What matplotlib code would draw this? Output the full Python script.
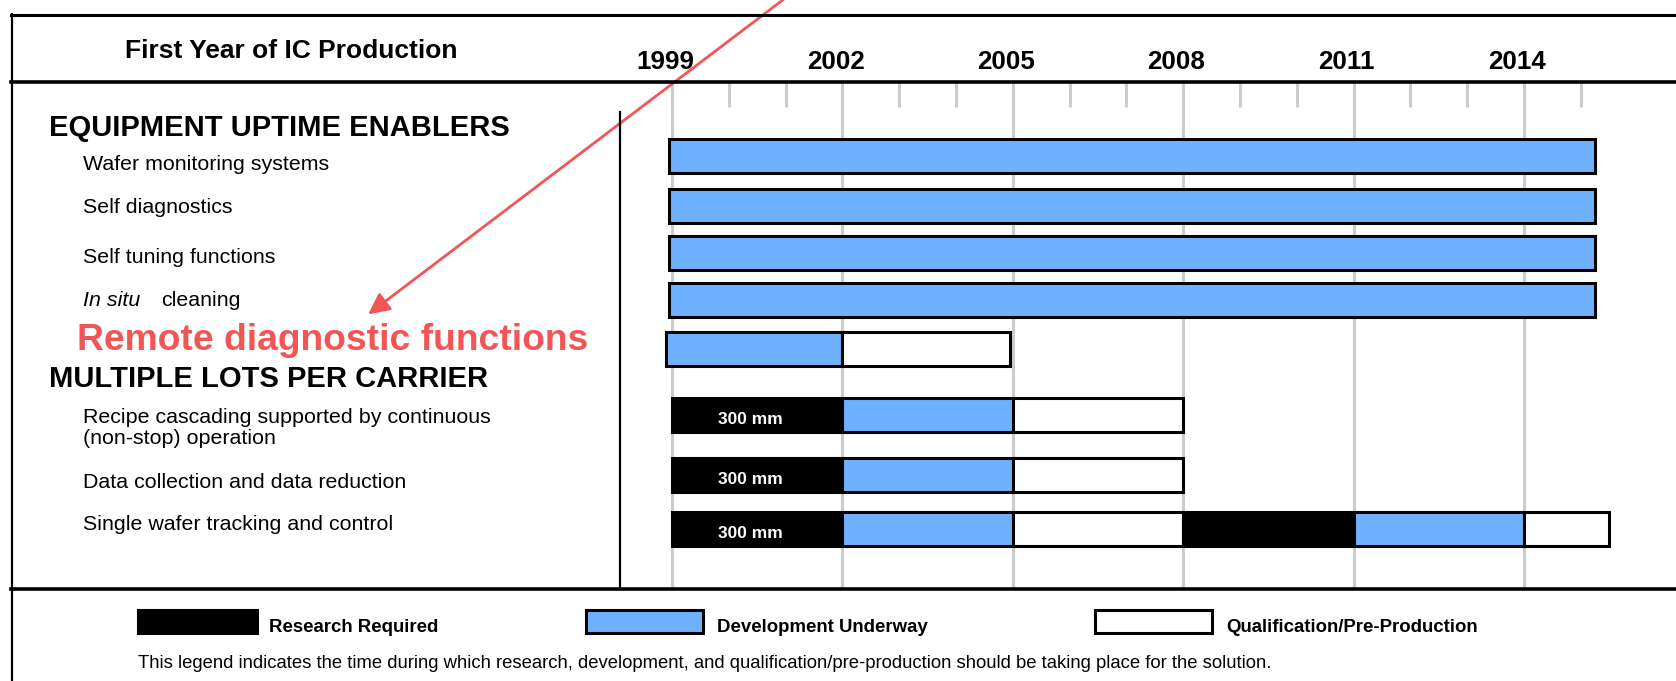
import matplotlib
matplotlib.use('Agg')
import matplotlib.pyplot as plt
from matplotlib.patches import Rectangle, FancyArrowPatch
from matplotlib.lines import Line2D

plt.rcParams['font.family'] = ['Liberation Sans', 'DejaVu Sans']

# ---- data ----
years = [1999, 2002, 2005, 2008, 2011, 2014]
minor_years = [2000, 2001, 2003, 2004, 2006, 2007, 2009, 2010, 2012, 2013, 2015]

section_1 = 'EQUIPMENT UPTIME ENABLERS'
section_2 = 'MULTIPLE LOTS PER CARRIER'
items_1 = ['Wafer monitoring systems', 'Self diagnostics', 'Self tuning functions', 'In situ cleaning']
items_2 = ['Recipe cascading supported by continuous\n(non-stop) operation',
           'Data collection and data reduction',
           'Single wafer tracking and control']
highlight_item = 'Remote diagnostic functions'

# segments per row: (start year, end year, phase)  R=research, D=development, Q=qualification
segs_wafer = [(1998.95, 2015.25, 'D')]
segs_selfdiag = [(1998.95, 2015.25, 'D')]
segs_selftune = [(1998.95, 2015.25, 'D')]
segs_insitu = [(1998.95, 2015.25, 'D')]
segs_remote = [(1998.9, 2002.0, 'D'), (2002.0, 2004.95, 'Q')]
segs_recipe = [(1999.0, 2002.0, 'R'), (2002.0, 2005.0, 'D'), (2005.0, 2008.0, 'Q')]
segs_datacoll = [(1999.0, 2002.0, 'R'), (2002.0, 2005.0, 'D'), (2005.0, 2008.0, 'Q')]
segs_single = [(1999.0, 2002.0, 'R'), (2002.0, 2005.0, 'D'), (2005.0, 2008.0, 'Q'),
               (2008.0, 2011.0, 'R'), (2011.0, 2014.0, 'D'), (2014.0, 2015.5, 'Q')]
research_label = '300 mm'

legend_labels = ['Research Required', 'Development Underway', 'Qualification/Pre-Production']
footnote = ('This legend indicates the time during which research, development, and '
            'qualification/pre-production should be taking place for the solution.')

# ---- style ----
BLUE = '#6DB1FF'
RED = '#F25555'
GRID = '#CCCCCC'
phase_color = {'R': 'black', 'D': BLUE, 'Q': 'white'}

W, H = 1676, 681
fig = plt.figure(figsize=(W / 100, H / 100), dpi=100)


def fx(px):
    return px / W


def fy(py):
    return 1 - py / H


# year axis spans the whole figure; 1999 sits at x=672 px, 56.8 px per year
PX_PER_YEAR = 56.8
ax = fig.add_axes([0, 0, 1, 1])
ax.set_xlim(1999 - 672 / PX_PER_YEAR, 1999 + (W - 672) / PX_PER_YEAR)
ax.set_ylim(H, 0)
ax.axis('off')

# grid and year ticks
ax.vlines(years, 82, 589, color=GRID, lw=2.2, zorder=1)
ax.vlines(minor_years, 82, 107, color=GRID, lw=2.2, zorder=1)
for yr in years:
    ax.text(yr - 0.12, 62, str(yr), ha='center', va='center', fontsize=18.7, fontweight='bold')

# bars
row_y = [156, 206, 253, 300, 349, 415, 475, 529]
rows = [segs_wafer, segs_selfdiag, segs_selftune, segs_insitu, segs_remote,
        segs_recipe, segs_datacoll, segs_single]
for y, segs in zip(row_y, rows):
    for start, end, ph in segs:
        ax.barh(y, end - start, left=start, height=34, color=phase_color[ph],
                edgecolor='black', linewidth=2.2, zorder=3)
        if ph == 'R' and start == 1999.0:
            ax.text((start + end) / 2 - 0.12, y + 4, research_label, color='white',
                    ha='center', va='center', fontsize=12.5, fontweight='bold', zorder=4)

# frame lines
def hline(y, x0, x1, lw):
    fig.add_artist(Line2D([fx(x0), fx(x1)], [fy(y), fy(y)], color='black', lw=lw,
                          transform=fig.transFigure))


def vline(x, y0, y1, lw):
    fig.add_artist(Line2D([fx(x), fx(x)], [fy(y0), fy(y1)], color='black', lw=lw,
                          transform=fig.transFigure))


hline(15, 11, W, 2.2)
hline(82, 11, W, 2.6)
hline(589, 11, W, 2.6)
vline(12, 14, H, 1.6)
vline(620, 112, 589, 1.6)

# header
fig.text(fx(291), fy(51), 'First Year of IC Production', ha='center', va='center',
         fontsize=19, fontweight='bold')

# left labels
fig.text(fx(49), fy(128), section_1, ha='left', va='center', fontsize=21, fontweight='bold')
item_y1 = [165, 208, 257, 300]
for y, lab in zip(item_y1, items_1):
    if lab.startswith('In situ'):
        fig.text(fx(83), fy(y), 'In situ', ha='left', va='center', fontsize=15.4, style='italic')
        fig.text(fx(161), fy(y), lab.replace('In situ ', ''), ha='left', va='center', fontsize=15.4)
    else:
        fig.text(fx(83), fy(y), lab, ha='left', va='center', fontsize=15.4)

fig.text(fx(77), fy(341), highlight_item, ha='left', va='center', fontsize=26.8,
         fontweight='bold', color=RED)
fig.text(fx(49), fy(379), section_2, ha='left', va='center', fontsize=21, fontweight='bold')
item_y2 = [428, 482, 525]
for y, lab in zip(item_y2, items_2):
    fig.text(fx(83), fy(y), lab, ha='left', va='center', fontsize=15.4, linespacing=1.1)

# arrow
fig.add_artist(FancyArrowPatch((fx(788), fy(-4)), (fx(366), fy(316)),
                               transform=fig.transFigure, arrowstyle='-|>',
                               mutation_scale=32, color=RED, lw=2))

# legend
legend_boxes = [(138, 257), (586, 703), (1095, 1212)]
legend_text_x = [269, 717, 1226]
for (x0, x1), tx, lab, ph in zip(legend_boxes, legend_text_x, legend_labels, ['R', 'D', 'Q']):
    fig.add_artist(Rectangle((fx(x0), fy(633)), fx(x1) - fx(x0), fy(610) - fy(633),
                             transform=fig.transFigure, facecolor=phase_color[ph],
                             edgecolor='black', lw=2.2))
    fig.text(fx(tx), fy(627), lab, ha='left', va='center', fontsize=13.4, fontweight='bold')

fig.text(fx(138), fy(663), footnote, ha='left', va='center', fontsize=13.35)

fig.savefig('out.png', dpi=100)
